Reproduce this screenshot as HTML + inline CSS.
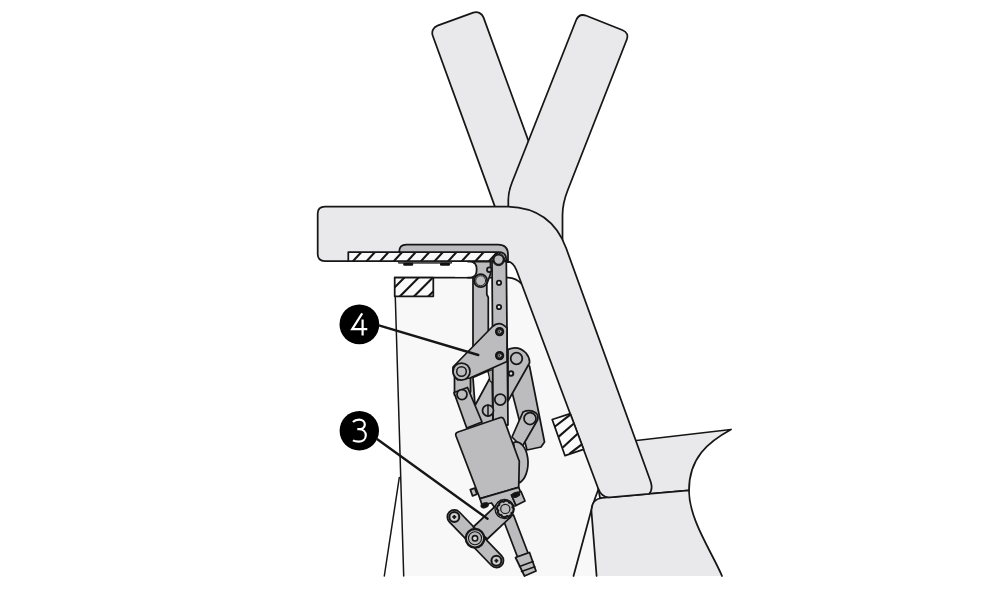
<!DOCTYPE html>
<html><head><meta charset="utf-8">
<style>
html,body{margin:0;padding:0;background:#fff;width:1000px;height:600px;overflow:hidden;font-family:"Liberation Sans",sans-serif;}
svg{display:block}
</style></head>
<body>
<svg width="1000" height="600" viewBox="0 0 1000 600">
<defs>
<clipPath id="cpStrip"><rect x="348.3" y="252" width="148.4" height="9"/></clipPath>
<clipPath id="cpBox"><rect x="394.7" y="277.5" width="38.6" height="18.8"/></clipPath>
<clipPath id="cpPar"><path d="M552.2,419.5 L570.3,413.7 L583.6,449.3 L565,455.7 Z"/></clipPath>
</defs>
<g stroke="#161616" stroke-width="1.75" stroke-linejoin="round" stroke-linecap="round">
<!-- panel -->
<path d="M394.7,277.5 L507,277.5 Q518,277.5 522,285 L598,491 L591.5,512 L596.6,576 L403.7,576 Z" fill="#f8f8f8" stroke="none"/>
<path d="M394.7,277.5 L507,277.5 Q516,277.5 521.7,284" fill="none"/>
<path d="M394.7,277.5 L403.7,576" fill="none" stroke-width="1.5"/>
<path d="M399.3,477.5 L384.3,576" fill="none" stroke-width="1.5"/>
<path d="M598.5,489 Q594,500 590,515 L573.5,576" fill="none"/>
<!-- seat shapes -->
<path d="M636.5,440.5 L731,429.5 C708,442 689,458 689,490.4 L600,498 L590,440 Z" fill="#e9e9eb"/>
<path d="M602,498 L689,490.4 C689,520 712,552 722,576 L596.6,576 L591.5,512 Q591,499 602,498 Z" fill="#e9e9eb" stroke="none"/>
<path d="M722,576 C712,552 689,520 689,490.4 L602,498 Q591,499 591.5,512 L596.6,576" fill="none"/>
<!-- Y bars -->
<rect x="0" y="0" width="54" height="202" rx="8" transform="translate(430.0,28.3) rotate(-20)" fill="#e9e9eb"/>
<path d="M586.4,15.8 L622.2,30 Q629.6,32.9 626.5,40.3 L567.8,190 Q562.5,203.5 562.5,215 L562.5,262 L508.3,262 L508.3,200 Q508.3,191.9 512,182.5 L576.1,20.3 Q579,12.9 586.4,15.8 Z" fill="#e9e9eb"/>
<!-- horizontal/diagonal bar -->
<path d="M325,206.5 L505,206.5 Q551,206.5 566.1,248 L650.7,481.7 Q653.2,490 649,493.9 L610,497.3 Q601.7,498 598,488 L516.4,270 Q513,261 505,261 L325,261 Q317.7,261 317.7,254 L317.7,213.5 Q317.7,206.5 325,206.5 Z" fill="#e9e9eb"/>
<!-- hatched strip -->
<rect x="348.3" y="252" width="148.4" height="9" fill="#f9f9f9"/>
<g clip-path="url(#cpStrip)" stroke-width="2.1">
<path d="M339.6,261 L347.8,252 M353.2,261 L361.4,252 M366.8,261 L375.0,252 M380.4,261 L388.6,252 M394.0,261 L402.2,252 M407.6,261 L415.8,252 M421.2,261 L429.4,252 M434.8,261 L443.0,252 M448.4,261 L456.6,252 M462.0,261 L470.2,252 M475.6,261 L483.8,252 M489.2,261 L497.4,252 M502.8,261 L511.0,252" fill="none"/>
</g>
<!-- grey plate -->
<path d="M398.8,261.6 L451.6,261.6 L451.6,263.2 L398.8,263.2 Z" fill="#666" stroke-width="0.8"/>
<rect x="403.2" y="262.8" width="10" height="3" rx="1.2" fill="#111" stroke="none"/>
<rect x="440" y="262.8" width="10" height="3" rx="1.2" fill="#111" stroke="none"/>
<!-- small hatched box -->
<rect x="394.7" y="277.5" width="38.6" height="18.8" fill="#fafafa"/>
<g clip-path="url(#cpBox)" stroke-width="2.1">
<path d="M385.8,296.3 L404.5,277.5 M400,296.3 L418.7,277.5 M414.2,296.3 L432.9,277.5 M428.4,296.3 L447.1,277.5" fill="none"/>
</g>
<!-- hatched parallelogram -->
<path d="M552.2,419.5 L570.3,413.7 L583.6,449.3 L565,455.7 Z" fill="#fafafa"/>
<g clip-path="url(#cpPar)" stroke-width="2.1">
<path d="M548,422 L568,407 M555,426.5 L570,414.8 M559,436.4 L573,424.2 M563.3,447 L577.3,434 M570,453.3 L580.8,445.2" fill="none"/>
</g>

<!-- ===== mechanism ===== -->
<g fill="#bcbcbe">
<!-- R3 long link -->
<path d="M520,362 L529.5,366 L544.5,442 L541,447 L527,450 L512,392 Z"/>
<!-- M1 middle vertical link -->
<path d="M492,261 L506.3,261 L507,330 L508,425 L493,425 L492.5,330 Z"/>
<circle cx="499" cy="282.7" r="2.2" fill="#e4e4e4"/>
<circle cx="499" cy="307" r="2.2" fill="#e4e4e4"/>
<circle cx="500.3" cy="399.5" r="5.5"/>
<!-- L1 left vertical link -->
<path d="M473,261.5 L490.5,261.5 L490.5,274 L486.8,284 L486.8,294.5 L488.3,297.5 L488.3,376 L473,376 Z"/>
<circle cx="480.7" cy="280.7" r="6.5"/>
<circle cx="480.7" cy="280.7" r="5" fill="none" stroke-width="0.9"/>

<circle cx="489.3" cy="269.7" r="2.3"/>
<!-- white gap rounded end -->
<path d="M455,262.4 L470,262.4 C474.5,262.4 475.8,265.5 475.8,269.6 C475.8,273.7 474.5,276.8 470,276.8 L455,276.8 Z" fill="#fff" stroke="none"/>
<path d="M468,261.5 L470.5,261.5 C475.5,261.5 476.7,265.2 476.7,269.6 C476.7,274 475.5,277.7 470.5,277.7 L468,277.7" fill="none"/>
<!-- plate hook -->
<path d="M399.2,252 L399.2,251.8 Q399.2,244.7 406.4,244.7 L498,244.7 Q508,244.7 508,254.7 L508,262 L506.3,262 L506.3,259.5 Q506.3,252 498.5,252 Z"/>
<circle cx="498.6" cy="259.5" r="5"/>
<circle cx="498.6" cy="259.5" r="6.2" fill="none" stroke-width="1"/>
<!-- lower-left region between links -->
<path d="M469.8,378 L492,371 L493,425 L474,428 L469.8,400 Z"/>
<path d="M473,377.5 L488,371 L490.5,377 L475,405.5 Z" fill="#fff"/>
<path d="M488,371.5 L492.5,369.5 L492.5,383 L490,381 Z" fill="#aaa" stroke-width="1.2"/>
<circle cx="488" cy="410.5" r="5.5"/>
<path d="M488,405 L488,416" fill="none" stroke-width="1.5"/>
<!-- short vertical link below pivot -->
<path d="M454.5,372 L470.5,372 L470.5,392 L454.5,395 Z"/>
<!-- lower link to motor -->
<path d="M454,392.5 L467.5,387.5 L482,422 L466.7,428 Z"/>
<circle cx="462" cy="394.5" r="5"/>
<!-- R2 link -->
<path d="M508,401 L508,349.5 Q518,345 526,353 Q530,358 529.5,363 Z"/>
<circle cx="516.5" cy="358.5" r="5.8"/>
<circle cx="511" cy="373.5" r="2.3" fill="#e4e4e4" stroke-width="2"/>
<!-- triangle plate 4 -->
<path d="M492.5,326.5 Q499.5,320 507,328 L507,361.5 L470,378 L458,380 Q452,376 453,367 Z"/>
<circle cx="461.5" cy="371.5" r="8.5"/>
<circle cx="461.5" cy="371.5" r="4.8" fill="none" stroke-width="1.5"/>
<circle cx="499.6" cy="331.6" r="3.8" fill="#222"/>
<circle cx="499.6" cy="331.6" r="1.3" fill="none" stroke="#bbb" stroke-width="0.8"/>
<circle cx="499.6" cy="355.6" r="3.8" fill="#222"/>
<circle cx="499.6" cy="355.6" r="1.3" fill="none" stroke="#bbb" stroke-width="0.8"/>
<!-- short link S -->
<path d="M523,412 Q530,409 536,413 Q539,416 537.5,420 L522,447 L512,437 Z"/>
<circle cx="530" cy="418.5" r="6"/>
<!-- motor round -->
<path d="M513.5,442.5 A 11.5,20 0 0 1 518.7,483 Z"/>
<!-- tab -->
<rect x="471.3" y="488.7" width="4.7" height="6.6" transform="rotate(-20 473.6 492)"/>
<!-- motor box -->
<path d="M456,436 Q455,433 458,432 L500.5,417.5 Q503,417 504,419.5 L519.3,461.3 L518.7,487.3 L480,498.7 Z"/>
<!-- bracket strip -->
<path d="M480,498.7 L518.7,487.3 L520.5,492 L511.5,495 L516,505.5 L497,511 L491.5,503 L482,505 Z"/>
<path d="M511.5,495 L521,491.5 L525,501 L516,505.5 Z"/>
<ellipse cx="484.7" cy="505.3" rx="3.5" ry="2" fill="#111" transform="rotate(-20 484.7 505.3)"/>
<ellipse cx="516" cy="494.7" rx="3.5" ry="2" fill="#111" transform="rotate(-20 516 494.7)"/>
<!-- rod -->
<path d="M503,519 L513.5,515 L528,553 L517.5,557 Z"/>
<path d="M515.5,557.5 L529.5,552.5 L536,571 L524.5,576 Z"/>
<path d="M519.5,566.5 L533,561.5 M521.5,571.5 L534.8,566.8" fill="none" stroke-width="1.5"/>
<!-- arm link -->
<path d="M449.3,521.8 A7,7 0 0 1 459.3,512 L501.5,555.7 A7,7 0 0 1 491.5,565.5 Z"/>
<circle cx="454.3" cy="516.9" r="5" stroke-width="2"/>
<circle cx="496.4" cy="560.7" r="5" stroke-width="2"/>
<circle cx="454.3" cy="516.9" r="3.2" fill="#d8d8d8" stroke="none"/>
<circle cx="496.4" cy="560.7" r="3.2" fill="#d8d8d8" stroke="none"/>
<path d="M452.3,516.9 h4 M454.3,514.9 v4 M494.4,560.7 h4 M496.4,558.7 v4" fill="none" stroke-width="1.8" stroke-linecap="butt"/>
<!-- link to nut -->
<path d="M473.3,527 L498.7,503 L510.7,517 L487.3,539 Z"/>
<circle cx="475" cy="538.3" r="9.3" stroke-width="2.3"/>
<circle cx="475" cy="538.3" r="6.5" fill="none" stroke-width="1.1"/>
<circle cx="475" cy="538.3" r="2.7" fill="#ddd" stroke-width="1.6"/>
<!-- nut -->
<circle cx="504.5" cy="509" r="9.5" stroke-width="1.3"/>
<path d="M513.7,508.6 L513.1,512.0 L511.4,512.8 L511.4,514.6 L508.6,516.6 L506.9,515.9 L505.6,517.3 L502.2,516.7 L501.4,515.0 L499.6,515.0 L497.6,512.2 L498.3,510.5 L496.9,509.2 L497.5,505.8 L499.2,505.0 L499.2,503.2 L502.0,501.2 L503.7,501.9 L505.0,500.5 L508.4,501.1 L509.2,502.8 L511.0,502.8 L513.0,505.6 L512.3,507.3 Z" stroke-width="2"/>
<circle cx="505.3" cy="508.9" r="4.6" stroke-width="1.2"/>
</g>

<!-- callouts -->
<circle cx="359.4" cy="324.4" r="19.9" fill="#000" stroke="none"/>
<circle cx="359.3" cy="430.8" r="19.7" fill="#000" stroke="none"/>
<path d="M379.7,325.7 L478.3,355" fill="none" stroke-width="2.4"/>
<path d="M377.3,439.3 L487.5,518.8" fill="none" stroke-width="2.4"/>
<path d="M362.2,313.4 L352.2,329.2 L367.3,329.2 M362.6,319.6 L362.6,335.5" fill="none" stroke="#fff" stroke-width="2.2" stroke-linejoin="miter" stroke-linecap="butt"/>
<path d="M352.9,422.1 C354.5,420.4 356.8,419.6 359.2,419.6 C362.6,419.6 364.8,421.8 364.8,424.4 C364.8,427.3 362.4,429.2 358.8,429.2 L357.3,429.2 M358.8,429.2 C363.2,429.2 365.8,432 365.8,435.3 C365.8,439 362.8,441.7 358.6,441.7 C356.4,441.7 354.3,441.2 352.9,440.4" fill="none" stroke="#fff" stroke-width="2.2" stroke-linecap="butt"/>
</g>
</svg>
</body></html>
